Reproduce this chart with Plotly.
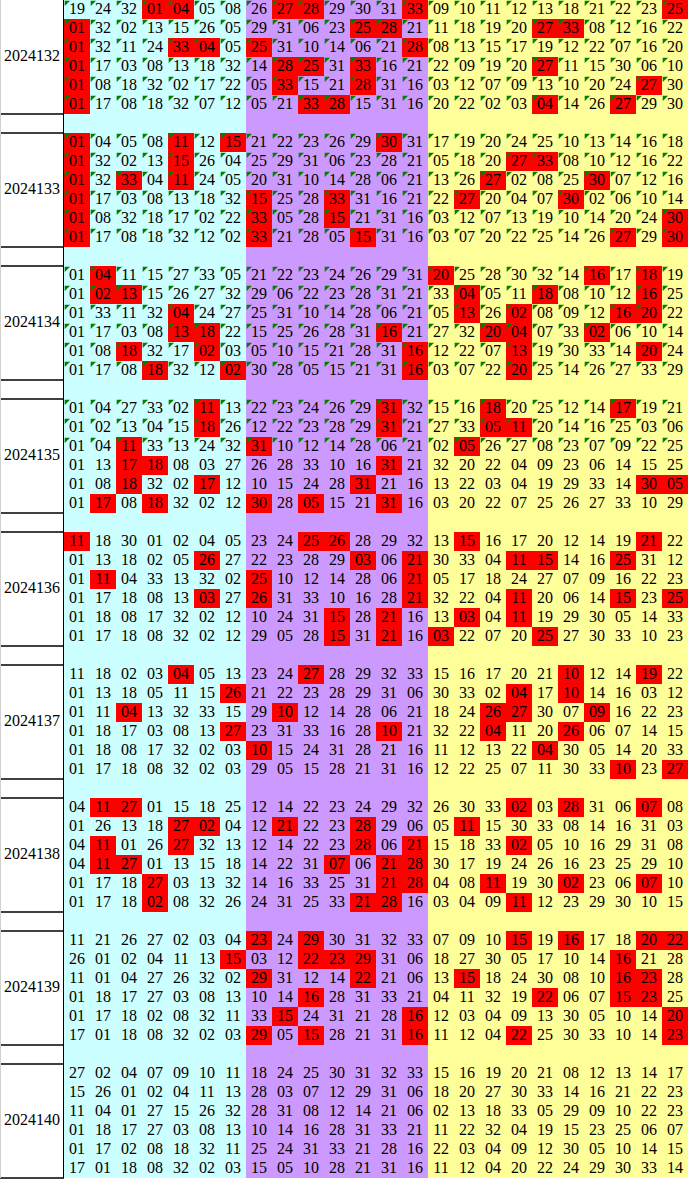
import plotly.graph_objects as go

# ---------------- data ----------------
periods = ["2024132", "2024133", "2024134", "2024135", "2024136",
           "2024137", "2024138", "2024139", "2024140"]

# each row: 7 cyan-zone numbers, 7 purple-zone numbers, 10 yellow-zone numbers
# "*" marks a highlighted (red) cell
p2024132 = [
    "19 24 32 *01 *04 05 08 26 *27 *28 29 30 31 *33 09 10 11 12 13 18 21 22 23 *25",
    "*01 32 02 13 15 26 05 29 31 06 23 *25 *28 21 11 18 19 20 *27 *33 08 12 16 22",
    "*01 32 11 24 *33 *04 05 *25 31 10 14 06 21 *28 08 13 15 17 19 12 22 07 16 20",
    "*01 17 03 08 13 18 32 14 *28 *25 31 *33 16 21 22 09 19 20 *27 11 15 30 06 10",
    "*01 08 18 32 02 17 22 05 *33 15 21 *28 31 16 03 12 07 09 13 10 20 24 *27 30",
    "*01 17 08 18 32 07 12 05 21 *33 *28 15 31 16 20 22 02 03 *04 14 26 *27 29 30",
]
p2024133 = [
    "*01 04 05 08 *11 12 *15 21 22 23 26 29 *30 31 17 19 20 24 25 10 13 14 16 18",
    "*01 32 02 13 *15 26 04 25 29 31 06 23 28 21 05 18 20 *27 *33 08 10 12 16 22",
    "*01 32 *33 04 *11 24 05 20 31 10 14 28 06 21 13 26 *27 02 08 25 *30 07 12 16",
    "*01 17 03 08 13 18 32 *15 25 28 *33 31 16 21 22 *27 20 04 07 *30 02 06 10 14",
    "*01 08 32 18 17 02 22 *33 05 28 *15 21 31 16 03 12 07 13 19 10 14 20 24 *30",
    "*01 17 08 18 32 12 02 *33 21 28 05 *15 31 16 03 07 20 22 25 14 26 *27 29 *30",
]
p2024134 = [
    "01 *04 11 15 27 33 05 21 22 23 24 26 29 31 *20 25 28 30 32 14 *16 17 *18 19",
    "01 *02 *13 15 26 27 32 29 06 22 23 28 31 21 33 *04 05 11 *18 08 10 12 *16 25",
    "01 33 11 32 *04 24 27 25 31 10 14 28 06 21 05 *13 26 *02 08 09 12 *16 *20 22",
    "01 17 03 08 *13 *18 22 15 25 26 28 31 *16 21 27 32 *20 *04 07 33 *02 06 10 14",
    "01 08 *18 32 17 *02 03 05 10 15 21 28 31 *16 12 22 07 *13 19 30 33 14 *20 24",
    "01 17 08 *18 32 12 *02 30 28 05 15 21 31 *16 03 07 22 *20 25 14 26 27 33 29",
]
p2024135 = [
    "01 04 27 33 02 *11 13 22 23 24 26 29 *31 32 15 16 *18 20 25 12 14 *17 19 21",
    "01 02 13 04 15 *18 26 12 22 23 28 29 *31 21 27 33 *05 *11 20 14 16 25 03 06",
    "01 04 *11 33 13 24 32 *31 10 12 14 28 06 21 02 *05 26 27 08 23 07 09 22 25",
    "01 13 *17 *18 08 03 27 26 28 33 10 16 *31 21 32 20 22 04 09 23 06 14 15 25",
    "01 08 *18 32 02 *17 12 10 15 24 28 *31 21 16 13 22 03 04 19 29 33 14 *30 *05",
    "01 *17 08 *18 32 02 12 *30 28 *05 15 21 *31 16 03 20 22 07 25 26 27 33 10 29",
]
p2024136 = [
    "*11 18 30 01 02 04 05 23 24 *25 *26 28 29 32 13 *15 16 17 20 12 14 19 *21 22",
    "01 13 18 02 05 *26 27 22 23 28 29 *03 06 *21 30 33 04 *11 *15 14 16 *25 31 12",
    "01 *11 04 33 13 32 02 *25 10 12 14 28 06 *21 05 17 18 24 27 07 09 16 22 23",
    "01 17 18 08 13 *03 27 *26 31 33 10 16 28 *21 32 22 04 *11 20 06 14 *15 23 *25",
    "01 18 08 17 32 02 12 10 24 31 *15 28 *21 16 13 *03 04 *11 19 29 30 05 14 33",
    "01 17 18 08 32 02 12 29 05 28 *15 31 *21 16 *03 22 07 20 *25 27 30 33 10 23",
]
p2024137 = [
    "11 18 02 03 *04 05 13 23 24 *27 28 29 32 33 15 16 17 20 21 *10 12 14 *19 22",
    "01 13 18 05 11 15 *26 21 22 23 28 29 31 06 30 33 02 *04 17 *10 14 16 03 12",
    "01 11 *04 13 32 33 15 29 *10 12 14 28 06 21 18 24 *26 *27 30 07 *09 16 22 23",
    "01 18 17 03 08 13 *27 23 31 33 16 28 *10 21 32 22 *04 11 20 *26 06 07 14 15",
    "01 18 08 17 32 02 03 *10 15 24 31 28 21 16 11 12 13 22 *04 30 05 14 20 33",
    "01 17 18 08 32 02 03 29 05 15 28 21 31 16 12 22 25 07 11 30 33 *10 23 *27",
]
p2024138 = [
    "04 *11 *27 01 15 18 25 12 14 22 23 24 29 32 26 30 33 *02 03 *28 31 06 *07 08",
    "01 26 13 18 *27 *02 04 12 *21 22 23 *28 29 06 05 *11 15 30 33 08 14 16 31 03",
    "04 *11 01 26 *27 32 13 12 14 22 23 *28 06 *21 15 18 33 *02 05 10 16 29 31 08",
    "04 *11 *27 01 13 15 18 14 22 31 *07 06 *21 *28 30 17 19 24 26 16 23 25 29 10",
    "01 17 18 *27 03 13 32 14 16 33 25 31 *21 *28 04 08 *11 19 30 *02 23 06 *07 10",
    "01 17 18 *02 08 32 26 24 31 25 33 *21 *28 16 03 04 09 *11 12 23 29 30 10 15",
]
p2024139 = [
    "11 21 26 27 02 03 04 *23 24 *29 30 31 32 33 07 09 10 *15 19 *16 17 18 *20 *22",
    "26 01 02 04 11 13 *15 03 12 *22 *23 *29 31 06 18 27 30 05 17 10 14 *16 21 28",
    "11 01 04 27 26 32 02 *29 31 12 14 *22 21 06 13 *15 18 24 30 08 10 *16 *23 28",
    "01 18 17 27 03 08 13 10 14 *16 28 31 33 21 04 11 32 19 *22 06 07 *15 *23 25",
    "01 17 18 02 08 32 11 33 *15 24 31 21 28 *16 12 03 04 09 13 30 05 10 14 *20",
    "17 01 18 08 32 02 03 *29 05 *15 28 21 31 *16 11 12 04 *22 25 30 33 10 14 *23",
]
p2024140 = [
    "27 02 04 07 09 10 11 18 24 25 30 31 32 33 15 16 19 20 21 08 12 13 14 17",
    "15 26 01 02 04 11 13 28 03 07 12 29 31 06 18 20 27 30 33 14 16 21 22 23",
    "11 04 01 27 15 26 32 28 31 08 12 14 21 06 02 13 18 33 05 29 09 10 22 23",
    "01 18 17 27 03 08 13 10 14 16 28 31 33 21 11 22 32 04 19 15 23 25 06 07",
    "01 17 02 08 18 32 11 25 24 31 33 21 28 16 22 03 04 09 12 30 05 10 14 15",
    "17 01 18 08 32 02 03 15 05 10 28 21 31 16 11 12 04 20 22 24 29 30 33 14",
]
blocks = [p2024132, p2024133, p2024134, p2024135, p2024136,
          p2024137, p2024138, p2024139, p2024140]

# number of leading rows in each period that carry the green corner flag
flagged_rows = [6, 6, 6, 3, 0, 0, 0, 0, 0]

zone_sizes = [7, 7, 10]

# ---------------- style ----------------
LABEL_W, CELL_W, ROW_H = 64, 26, 19
W, H = 688, 1179
FONT = "Liberation Serif"
C_WHITE, C_CYAN, C_PURPLE, C_YELLOW, C_RED = "#FFFFFF", "#CCFFFF", "#CC99FF", "#FFFF99", "#FF0000"
FLAG = "#008000"

zone_of_col = []
for zi, n in enumerate(zone_sizes):
    zone_of_col += [zi + 1] * n
ncols = len(zone_of_col)

x_edges = [0, LABEL_W] + [LABEL_W + CELL_W * (i + 1) for i in range(ncols)]

z = []
txt_x, txt_y, txt = [], [], []
flag_x, flag_y = [], []
lab_x, lab_y, lab_t = [], [], []
hlines = []
row = 0
for bi, (per, rows) in enumerate(zip(periods, blocks)):
    top = row
    for ri, line in enumerate(rows):
        vals = line.split()
        zr = [0]
        for ci, v in enumerate(vals):
            red = v.startswith("*")
            num = v.lstrip("*")
            zr.append(4 if red else zone_of_col[ci])
            cx = LABEL_W + CELL_W * ci + CELL_W / 2
            cy = row * ROW_H + ROW_H / 2
            txt_x.append(cx)
            txt_y.append(cy + 0.5)
            txt.append(num)
            if ri < flagged_rows[bi]:
                flag_x.append(LABEL_W + CELL_W * ci + 2.5)
                flag_y.append(row * ROW_H + 2.5)
        z.append(zr)
        row += 1
    lab_x.append(LABEL_W / 2)
    lab_y.append((top * ROW_H + row * ROW_H) / 2)
    lab_t.append(per)
    hlines.append(row * ROW_H)
    if bi < len(periods) - 1:
        z.append([0] + zone_of_col)
        row += 1
        hlines.append(row * ROW_H)

y_edges = [i * ROW_H for i in range(row + 1)]

colorscale = [
    [0.0, C_WHITE], [0.125, C_WHITE],
    [0.125, C_CYAN], [0.375, C_CYAN],
    [0.375, C_PURPLE], [0.625, C_PURPLE],
    [0.625, C_YELLOW], [0.875, C_YELLOW],
    [0.875, C_RED], [1.0, C_RED],
]

fig = go.Figure()
fig.add_trace(go.Heatmap(
    z=z, x=x_edges, y=y_edges, zmin=0, zmax=4, colorscale=colorscale,
    showscale=False, hoverinfo="skip", xgap=0, ygap=0,
))
fig.add_trace(go.Scatter(
    x=flag_x, y=flag_y, mode="markers", hoverinfo="skip",
    marker=dict(symbol="triangle-nw", size=6, color=FLAG, line=dict(width=0)),
))
fig.add_trace(go.Scatter(
    x=txt_x, y=txt_y, mode="text", text=txt, hoverinfo="skip",
    textfont=dict(family=FONT, size=16, color="#000000"),
))
fig.add_trace(go.Scatter(
    x=lab_x, y=lab_y, mode="text", text=lab_t, hoverinfo="skip",
    textfont=dict(family=FONT, size=16, color="#000000"),
))

shapes = []
for y in hlines:
    shapes.append(dict(type="line", xref="x", yref="y", x0=0, x1=LABEL_W, y0=y, y1=y,
                       line=dict(color="#000000", width=1.5)))
shapes.append(dict(type="line", xref="x", yref="y", x0=LABEL_W - 0.5, x1=LABEL_W - 0.5,
                   y0=0, y1=row * ROW_H, line=dict(color="#000000", width=1)))
shapes.append(dict(type="line", xref="x", yref="y", x0=0.5, x1=0.5,
                   y0=0, y1=row * ROW_H, line=dict(color="#D0D0D0", width=1)))

fig.update_layout(
    width=W, height=H, margin=dict(l=0, r=0, t=0, b=0),
    paper_bgcolor="#FFFFFF", plot_bgcolor="#FFFFFF",
    showlegend=False, shapes=shapes,
    xaxis=dict(range=[0, W], visible=False, fixedrange=True),
    yaxis=dict(range=[H, 0], visible=False, fixedrange=True),
)
fig.write_html(
    "out.html",
    config={"displayModeBar": False},
    post_script="document.body.style.margin='0';document.body.style.padding='0';"
                "document.body.style.overflow='hidden';",
)
